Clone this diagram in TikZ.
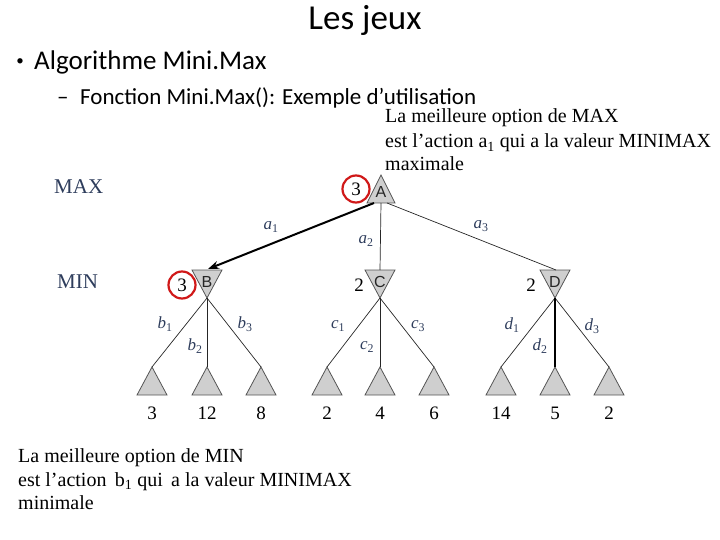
\documentclass[tikz,border=0pt]{standalone}
\usepackage{fontspec}
\setmainfont{Liberation Serif}
\newfontfamily\carl{Carlito}
\newfontfamily\lsans{Liberation Sans}
\usetikzlibrary{arrows.meta}
\definecolor{lbl}{HTML}{2E3D5C}
\definecolor{tri}{HTML}{CFCFCF}
\definecolor{trid}{HTML}{555555}
\definecolor{ring}{HTML}{D01818}
\newcommand{\elabtxt}[2]{\textit{#1}\textsubscript{#2}}
\tikzset{
  upt/.style={fill=tri,draw=trid,line width=0.8pt,line join=miter},
  edge/.style={draw=black!85,line width=0.7pt},
  elab/.style={text=lbl,font=\fontsize{17}{17}\selectfont,inner sep=0pt},
  letter/.style={font=\lsans\fontsize{16}{16}\selectfont,text=black!85,inner sep=0pt},
  val/.style={font=\fontsize{19}{19}\selectfont,inner sep=0pt},
  lev/.style={font=\fontsize{21}{21}\selectfont,text=lbl,inner sep=0pt},
  ann/.style={font=\fontsize{20}{24}\selectfont,anchor=base west,inner sep=0pt},
  ringc/.style={draw=ring,line width=2.2pt},
}
\begin{document}
\begin{tikzpicture}[x=1pt,y=-1pt]
\useasboundingbox (0,0) rectangle (720,540);
% headings
\node[font=\carl\fontsize{35}{35}\selectfont,anchor=base,inner sep=0pt] (title) at (365,30) {Les jeux};
\node[font=\carl\fontsize{15}{15}\selectfont,inner sep=0pt] (bulg) at (20,62) {•};
\node[font=\carl\fontsize{27}{27}\selectfont,anchor=base west,inner sep=0pt] (bul) at (34,70) {Algorithme Mini.Max};
\node[font=\carl\fontsize{23}{23}\selectfont,anchor=base west,inner sep=0pt] (dash) at (57,105) {–};
\node[font=\carl\fontsize{23}{23}\selectfont,anchor=base west,inner sep=0pt] (sub) at (80,105) {Fonction Mini.Max(): Exemple d’utilisation};
% annotations
\node[ann] (t1) at (385,123) {La meilleure option de MAX};
\node[ann] (t2) at (385,148) {est l’action a\textsubscript{1} qui a la valeur MINIMAX};
\node[ann] (t3) at (385,171) {maximale};
\node[ann] (u1) at (18,462) {La meilleure option de MIN};
\node[ann] (u2) at (18,486) {est l’action\, b\textsubscript{1} qui\, a la valeur MINIMAX};
\node[ann] (u3) at (18,509) {minimale};
% level labels
\node[lev,anchor=base west] (max) at (54,194) {MAX};
\node[lev,anchor=base west] (min) at (57,288) {MIN};
% A (max node)
\coordinate (Aa) at (381,175);
\coordinate (Al) at (367,203);
\coordinate (Ar) at (395,203);
\path[upt] (Aa) -- (Ar) -- (Al) -- cycle;
\node[letter] (A) at (381,192) {A};
% MIN nodes
\foreach \n/\x in {B/207,C/380,D/555}{
  \coordinate (\n l) at (\x-15,270);
  \coordinate (\n r) at (\x+15,270);
  \coordinate (\n a) at (\x,298);
  \path[upt] (\n l) -- (\n r) -- (\n a) -- cycle;
  \node[letter] (\n) at (\x,282) {\n};
}
% values
\node[val] (vA) at (356,189) {3};
\node[val] (vB) at (182,285) {3};
\node[val] (vC) at (359,285) {2};
\node[val] (vD) at (531,285) {2};
\draw[ringc] (vA) circle (13.5);
\draw[ringc] (vB) circle (13.5);
% edges from A
\coordinate (Ab) at (381,203);
\coordinate (Abl) at (374,203);
\coordinate (Abr) at (387,203);
\coordinate (Bt) at (208,269);
\coordinate (Ct) at (380,270);
\coordinate (Dt) at (556,270);
\draw[line width=2pt,-{Stealth[length=11pt,width=8pt]}] (Abl) -- (Bt);
\draw[edge] (Ab) -- (Ct);
\draw[edge] (Abr) -- (Dt);
\node[elab] (la1) at (271,227) {\elabtxt{a}{1}};
\node[elab] (la2) at (366,241) {\elabtxt{a}{2}};
\node[elab] (la3) at (481,226) {\elabtxt{a}{3}};
% leaves
\foreach \i/\x/\v/\p in {1/152/3/B,2/207/12/B,3/261/8/B,4/327/2/C,5/380/4/C,6/434/6/C,7/501/14/D,8/555/5/D,9/609/2/D}{
  \coordinate (L\i) at (\x,367);
  \path[upt] (L\i) -- (\x+15,395) -- (\x-15,395) -- cycle;
  \node[val] (v\i) at (\x,413) {\v};
}
\foreach \p/\a/\b/\c in {B/1/2/3,C/4/5/6,D/7/8/9}{
  \draw[edge] (\p a) -- (L\a);
  \draw[edge] (\p a) -- (L\b);
  \draw[edge] (\p a) -- (L\c);
}
\draw[line width=1.6pt] (Da) -- (L8);
\node[elab] (lb1) at (165,324) {\elabtxt{b}{1}};
\node[elab] (lb2) at (195,346) {\elabtxt{b}{2}};
\node[elab] (lb3) at (245,324) {\elabtxt{b}{3}};
\node[elab] (lc1) at (338,326) {\elabtxt{c}{1}};
\node[elab] (lc2) at (367,347) {\elabtxt{c}{2}};
\node[elab] (lc3) at (418,326) {\elabtxt{c}{3}};
\node[elab] (ld1) at (512,325) {\elabtxt{d}{1}};
\node[elab] (ld2) at (540,346) {\elabtxt{d}{2}};
\node[elab] (ld3) at (592,326) {\elabtxt{d}{3}};
\end{tikzpicture}
\end{document}
